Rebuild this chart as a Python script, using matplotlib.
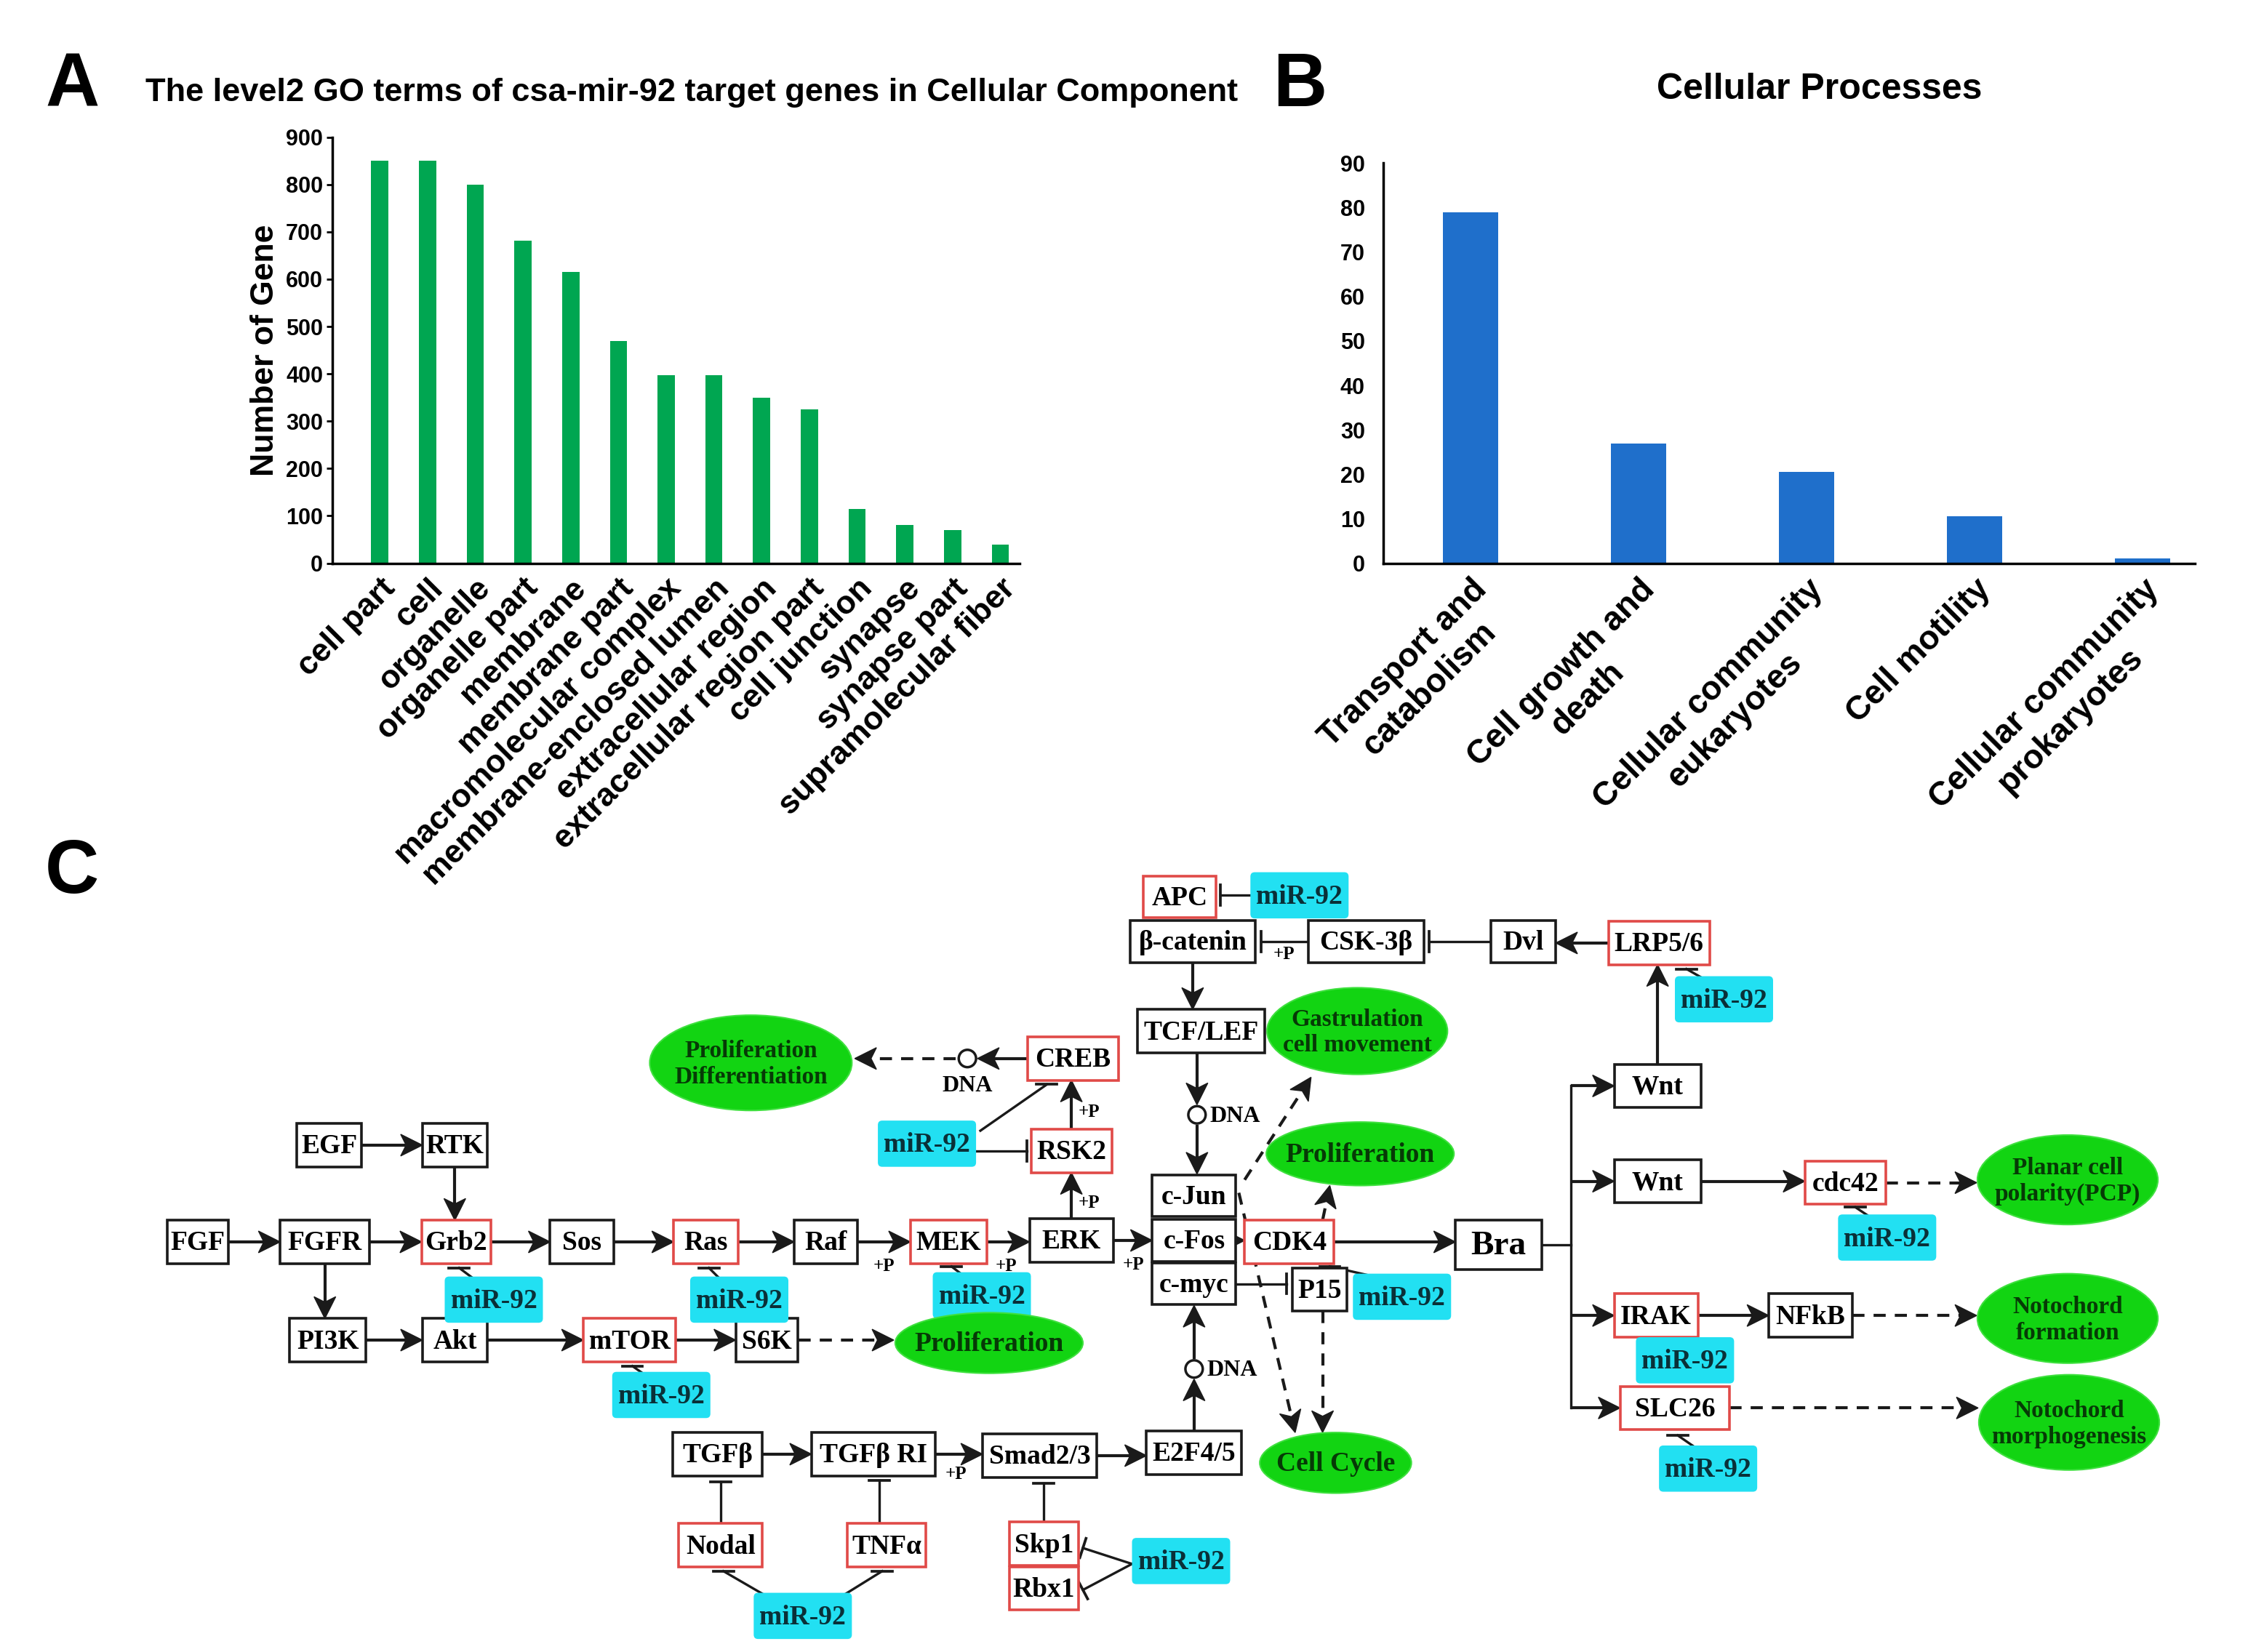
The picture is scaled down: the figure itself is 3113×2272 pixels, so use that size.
import numpy as np
import matplotlib
matplotlib.use("Agg")
import matplotlib.pyplot as plt
from matplotlib.patches import Rectangle, Ellipse, FancyBboxPatch, Circle, Polygon

# ---------------------- DATA ---------------------- #
go_terms = ["cell part", "cell", "organelle", "organelle part", "membrane",
            "membrane part", "macromolecular complex", "membrane-enclosed lumen",
            "extracellular region", "extracellular region part", "cell junction",
            "synapse", "synapse part", "supramolecular fiber"]
go_counts = [850, 850, 800, 682, 615, 470, 397, 397, 350, 325, 115, 80, 70, 40]

kegg_terms = ["Transport and\ncatabolism", "Cell growth and\ndeath",
              "Cellular community\neukaryotes", "Cell motility",
              "Cellular community\nprokaryotes"]
kegg_counts = [79, 27, 20.5, 10.5, 1]

# pathway nodes: name, label, x, y, width, height, target of miR-92
nodes = [
    ("FGF", "FGF", 137, 860, 42, 30, False),
    ("FGFR", "FGFR", 225, 860, 62, 30, False),
    ("Grb2", "Grb2", 316, 860, 48, 30, True),
    ("Sos", "Sos", 403, 860, 44, 30, False),
    ("Ras", "Ras", 489, 860, 45, 30, True),
    ("Raf", "Raf", 572, 860, 44, 30, False),
    ("MEK", "MEK", 657, 860, 53, 30, True),
    ("ERK", "ERK", 742, 859, 58, 30, False),
    ("cJun", "c-Jun", 827, 828, 58, 29, False),
    ("cFos", "c-Fos", 827, 859, 58, 29, False),
    ("cmyc", "c-myc", 827, 889, 58, 29, False),
    ("CDK4", "CDK4", 893, 860, 62, 30, True),
    ("Bra", "Bra", 1038, 862, 60, 34, False),
    ("P15", "P15", 914, 893, 38, 30, False),
    ("EGF", "EGF", 228, 793, 45, 30, False),
    ("RTK", "RTK", 315, 793, 45, 30, False),
    ("PI3K", "PI3K", 227, 928, 53, 30, False),
    ("Akt", "Akt", 315, 928, 45, 30, False),
    ("mTOR", "mTOR", 436, 928, 64, 30, True),
    ("S6K", "S6K", 531, 928, 43, 30, False),
    ("CREB", "CREB", 743, 733, 63, 30, True),
    ("RSK2", "RSK2", 742, 797, 56, 30, True),
    ("APC", "APC", 817, 621, 50, 29, True),
    ("bcat", "β-catenin", 826, 652, 87, 29, False),
    ("CSK", "CSK-3β", 946, 652, 80, 29, False),
    ("Dvl", "Dvl", 1055, 652, 45, 29, False),
    ("LRP", "LRP5/6", 1149, 653, 70, 30, True),
    ("TCF", "TCF/LEF", 832, 714, 88, 30, False),
    ("Wnt1", "Wnt", 1148, 752, 60, 30, False),
    ("Wnt2", "Wnt", 1148, 818, 60, 30, False),
    ("cdc42", "cdc42", 1278, 819, 56, 30, True),
    ("IRAK", "IRAK", 1147, 911, 58, 30, True),
    ("NFkB", "NFkB", 1254, 911, 58, 30, False),
    ("SLC26", "SLC26", 1160, 975, 76, 30, True),
    ("E2F", "E2F4/5", 827, 1006, 66, 30, False),
    ("Smad", "Smad2/3", 720, 1008, 79, 30, False),
    ("TGFRI", "TGFβ RI", 605, 1007, 86, 30, False),
    ("TGFb", "TGFβ", 497, 1007, 62, 30, False),
    ("Nodal", "Nodal", 499, 1070, 58, 30, True),
    ("TNFa", "TNFα", 614, 1070, 54, 30, True),
    ("Skp1", "Skp1", 723, 1069, 48, 30, True),
    ("Rbx1", "Rbx1", 723, 1100, 48, 30, True),
]

mir_boxes = [(900, 620), (642, 792), (342, 900), (512, 900), (680, 897),
             (458, 966), (971, 898), (1194, 692), (1307, 857), (1167, 942),
             (1183, 1017), (556, 1119), (818, 1081)]

outcomes = [
    ("Proliferation\nDifferentiation", 520, 736, 140, 66),
    ("Proliferation", 685, 930, 130, 42),
    ("Gastrulation\ncell movement", 940, 714, 125, 60),
    ("Proliferation", 942, 799, 130, 44),
    ("Cell Cycle", 925, 1013, 105, 42),
    ("Planar cell\npolarity(PCP)", 1432, 817, 125, 62),
    ("Notochord\nformation", 1432, 913, 125, 62),
    ("Notochord\nmorphogenesis", 1433, 985, 125, 66),
]

activations = [
    ("FGF", "r", "FGFR", "l"), ("FGFR", "r", "Grb2", "l"), ("Grb2", "r", "Sos", "l"),
    ("Sos", "r", "Ras", "l"), ("Ras", "r", "Raf", "l"), ("Raf", "r", "MEK", "l"),
    ("MEK", "r", "ERK", "l"), ("ERK", "r", "cFos", "l"), ("cFos", "r", "CDK4", "l"),
    ("CDK4", "r", "Bra", "l"), ("EGF", "r", "RTK", "l"), ("RTK", "b", "Grb2", "t"),
    ("FGFR", "b", "PI3K", "t"), ("PI3K", "r", "Akt", "l"), ("Akt", "r", "mTOR", "l"),
    ("mTOR", "r", "S6K", "l"), ("ERK", "t", "RSK2", "b"), ("RSK2", "t", "CREB", "b"),
    ("bcat", "b", "TCF", "t"), ("TGFb", "r", "TGFRI", "l"), ("TGFRI", "r", "Smad", "l"),
    ("Smad", "r", "E2F", "l"), ("LRP", "l", "Dvl", "r"), ("Wnt1", "t", "LRP", "b"),
    ("Wnt2", "r", "cdc42", "l"), ("IRAK", "r", "NFkB", "l"),
]
inhibitions = [
    ("CSK", "l", "bcat", "r"), ("Dvl", "l", "CSK", "r"), ("cmyc", "r", "P15", "l"),
    ("Nodal", "t", "TGFb", "b"), ("Skp1", "t", "Smad", "b"),
]
plus_p = [(612, 877), (697, 877), (785, 876), (754, 833), (754, 770), (889, 661), (662, 1021)]

# ---------------------- FIGURE ---------------------- #
W, H = 1568, 1144
SANS = "Liberation Sans"
SERIF = "Liberation Serif"
fig = plt.figure(figsize=(31.13, 22.72), dpi=100)

# Panel A
axA = fig.add_axes([230 / W, 1 - 390 / H, (706 - 230) / W, (390 - 95) / H])
axA.bar(range(len(go_terms)), go_counts, width=0.36, color="#00a651")
axA.set_xlim(-1.0, 13.4)
axA.set_ylim(0, 900)
axA.set_yticks(range(0, 901, 100))
axA.set_xticks(range(len(go_terms)))
axA.set_xticklabels(go_terms, rotation=45, ha="right", rotation_mode="anchor",
                    fontsize=32, fontweight="bold", family=SANS)
for lab in axA.get_yticklabels():
    lab.set_fontsize(22); lab.set_fontweight("bold"); lab.set_family(SANS)
axA.tick_params(axis="x", length=0, pad=10)
axA.tick_params(axis="y", length=6, width=2, pad=3)
axA.set_ylabel("Number of Gene", fontsize=32, fontweight="bold", family=SANS, labelpad=6)
for s in ["top", "right"]:
    axA.spines[s].set_visible(False)
for s in ["left", "bottom"]:
    axA.spines[s].set_linewidth(2.5)

# Panel B
axB = fig.add_axes([958 / W, 1 - 390 / H, (1520 - 958) / W, (390 - 113) / H])
axB.bar(range(len(kegg_terms)), kegg_counts, width=0.33, color="#1f6fcb")
axB.set_xlim(-0.52, 4.31)
axB.set_ylim(0, 90)
axB.set_yticks(range(0, 91, 10))
axB.set_xticks(range(len(kegg_terms)))
axB.set_xticklabels(kegg_terms, rotation=45, ha="right", rotation_mode="anchor",
                    multialignment="center", fontsize=33, fontweight="bold", family=SANS)
for lab in axB.get_yticklabels():
    lab.set_fontsize(22); lab.set_fontweight("bold"); lab.set_family(SANS)
axB.tick_params(axis="x", length=0, pad=10)
axB.tick_params(axis="y", length=0, pad=18)
for s in ["top", "right"]:
    axB.spines[s].set_visible(False)
for s in ["left", "bottom"]:
    axB.spines[s].set_linewidth(2.5)

# Overlay for titles and panel C
ax = fig.add_axes([0, 0, 1, 1])
ax.set_xlim(0, W)
ax.set_ylim(H, 0)
ax.axis("off")

ax.text(50, 60, "A", fontsize=74, fontweight="bold", family=SANS, ha="center", va="center")
ax.text(900, 60, "B", fontsize=74, fontweight="bold", family=SANS, ha="center", va="center")
ax.text(50, 605, "C", fontsize=74, fontweight="bold", family=SANS, ha="center", va="center")
ax.text(479, 64, "The level2 GO terms of csa-mir-92 target genes in Cellular Component",
        fontsize=32.5, fontweight="bold", family=SANS, ha="center", va="center")
ax.text(1260, 62, "Cellular Processes", fontsize=36, fontweight="bold", family=SANS,
        ha="center", va="center")

LW = 3.0
INK = "#1a1a1a"
RED = "#e04a48"
CYAN = "#22e0f2"
GREEN = "#12d412"

pos = {n[0]: n for n in nodes}


def anchor(name, side):
    _, _, x, y, w, h, _ = pos[name]
    return {"l": (x - w / 2, y), "r": (x + w / 2, y),
            "t": (x, y - h / 2), "b": (x, y + h / 2)}[side]


def link(a, sa, b, sb):
    x1, y1 = anchor(a, sa)
    x2, y2 = anchor(b, sb)
    if sa in "lr":
        y2 = y1
    else:
        x2 = x1
    return x1, y1, x2, y2


def arrow(x1, y1, x2, y2, dashed=False, head=15, half=7.5):
    d = np.hypot(x2 - x1, y2 - y1)
    ux, uy = (x2 - x1) / d, (y2 - y1) / d
    bx, by = x2 - ux * head, y2 - uy * head
    nx, ny = x2 - ux * head * 0.75, y2 - uy * head * 0.75
    ax.plot([x1, nx], [y1, ny], color=INK, lw=LW,
            ls=(0, (4, 3)) if dashed else "-", solid_capstyle="butt", zorder=2)
    ax.add_patch(Polygon([(x2, y2), (bx - uy * half, by + ux * half), (nx, ny),
                          (bx + uy * half, by - ux * half)],
                         closed=True, color=INK, zorder=2))


def tbar(x1, y1, x2, y2, half=7, horizontal=False, gap=0):
    d = np.hypot(x2 - x1, y2 - y1)
    ux, uy = (x2 - x1) / d, (y2 - y1) / d
    x2, y2 = x2 - ux * gap, y2 - uy * gap
    ax.plot([x1, x2], [y1, y2], color=INK, lw=LW * 0.8, zorder=2)
    px, py = (1, 0) if horizontal else (-uy, ux)
    ax.plot([x2 - px * half, x2 + px * half], [y2 - py * half, y2 + py * half],
            color=INK, lw=LW * 0.9, zorder=2)


# boxes
for name, label, x, y, w, h, red in nodes:
    ax.add_patch(Rectangle((x - w / 2, y - h / 2), w, h, facecolor="white",
                           edgecolor=RED if red else INK, lw=2.6, zorder=3))
    ax.text(x, y + 1, label, fontsize=34 if name == "Bra" else 27, fontweight="bold",
            family=SERIF, ha="center", va="center", zorder=4)

for x, y in mir_boxes:
    ax.add_patch(FancyBboxPatch((x - 31, y - 13), 62, 26, boxstyle="round,pad=3,rounding_size=3",
                                facecolor=CYAN, edgecolor="none", zorder=3))
    ax.text(x, y + 1, "miR-92", fontsize=27, fontweight="bold", family=SERIF,
            color="#0a3038", ha="center", va="center", zorder=4)

for label, x, y, w, h in outcomes:
    ax.add_patch(Ellipse((x, y), w, h, facecolor=GREEN, edgecolor="#3fe03f", lw=1.5, zorder=3))
    ax.text(x, y + 1, label, fontsize=24 if "\n" in label else 27, fontweight="bold",
            family=SERIF, color="#063a06", ha="center", va="center",
            linespacing=1.2, zorder=4)

# DNA nodes
for cx, cy, tx, ty, ha in [(670, 733, 670, 752, "center"), (829, 772, 838, 773, "left"),
                           (827, 948, 836, 949, "left")]:
    ax.add_patch(Circle((cx, cy), 6, facecolor="white", edgecolor=INK, lw=2.5, zorder=3))
    ax.text(tx, ty, "DNA", fontsize=23, fontweight="bold", family=SERIF,
            ha=ha, va="center", zorder=4)

for edge in activations:
    arrow(*link(*edge))

for edge in inhibitions:
    tbar(*link(*edge), gap=4)

for x, y in plus_p:
    ax.text(x, y, "+P", fontsize=18, fontweight="bold", family=SERIF, ha="center", va="center")

# DNA links
arrow(711, 733, 677, 733)
arrow(662, 733, 592, 733, dashed=True)
arrow(829, 729, 829, 765)
arrow(829, 779, 829, 813)
arrow(827, 991, 827, 955)
arrow(827, 941, 827, 904)

# Bra branches
ax.plot([1068, 1088], [862, 862], color=INK, lw=LW * 0.8)
ax.plot([1088, 1088], [752, 975], color=INK, lw=LW * 0.8)
for name in ["Wnt1", "Wnt2", "IRAK", "SLC26"]:
    x2, y2 = anchor(name, "l")
    arrow(1088, y2, x2, y2)

# dashed outcome links
arrow(553, 928, 619, 928, dashed=True)
arrow(862, 817, 908, 746, dashed=True)
arrow(858, 826, 897, 992, dashed=True)
arrow(916, 845, 921, 821, dashed=True)
arrow(916, 908, 916, 992, dashed=True)
arrow(1306, 819, 1369, 819, dashed=True)
arrow(1283, 911, 1369, 911, dashed=True)
arrow(1198, 975, 1370, 975, dashed=True)

# miR-92 inhibitions
tbar(869, 620, 845, 620)
tbar(611, 797, 711, 797)
tbar(679, 783, 725, 751, horizontal=True)
tbar(330, 887, 318, 878, horizontal=True)
tbar(500, 887, 491, 878, horizontal=True)
tbar(668, 884, 659, 877, horizontal=True)
tbar(448, 953, 438, 946, horizontal=True)
tbar(956, 885, 921, 877, horizontal=True)
tbar(1182, 679, 1168, 671, horizontal=True)
tbar(1297, 844, 1285, 836, horizontal=True)
tbar(1160, 929, 1152, 927, horizontal=True)
tbar(1175, 1003, 1162, 994, horizontal=True)
tbar(532, 1106, 501, 1088, horizontal=True)
tbar(582, 1106, 611, 1088, horizontal=True)
tbar(609, 1055, 609, 1025, horizontal=True)
tbar(784, 1083, 750, 1072)
tbar(784, 1083, 750, 1101)

fig.savefig("out.png", dpi=100, facecolor="white")
